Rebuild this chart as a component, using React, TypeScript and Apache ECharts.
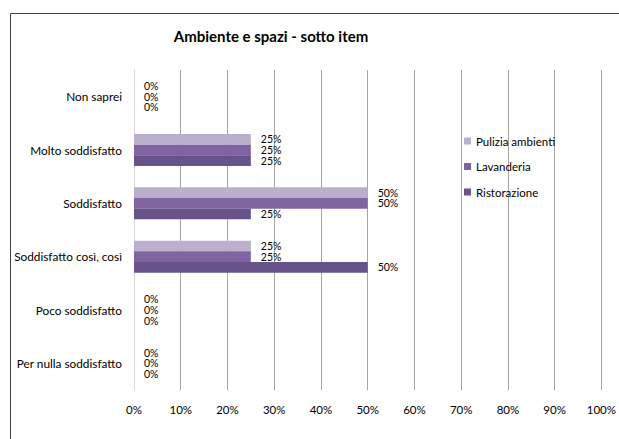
import React, { useEffect, useRef } from "react";
import * as echarts from "echarts";

const categories = [
  "Non saprei",
  "Molto soddisfatto",
  "Soddisfatto",
  "Soddisfatto così, così",
  "Poco soddisfatto",
  "Per nulla soddisfatto",
];
const seriesNames = ["Pulizia ambienti", "Lavanderia", "Ristorazione"];
const puliziaAmbienti = [0, 25, 50, 25, 0, 0];
const lavanderia = [0, 25, 50, 25, 0, 0];
const ristorazione = [0, 25, 25, 50, 0, 0];
const xTicks = [0, 10, 20, 30, 40, 50, 60, 70, 80, 90, 100];

const colors = ["#BAB0CB", "#8064A2", "#67528A"];
const FONT = "Lato, 'Open Sans', sans-serif";

export default function App() {
  const ref = useRef<HTMLDivElement>(null);
  useEffect(() => {
    if (!ref.current) return;
    const chart = echarts.init(ref.current, null, { renderer: "svg", width: 619, height: 439 });
    const data = [puliziaAmbienti, lavanderia, ristorazione];
    chart.setOption({
      animation: false,
      backgroundColor: "#ffffff",
      textStyle: { fontFamily: FONT },
      graphic: [
        {
          type: "rect",
          shape: { x: 10.5, y: 13.5, width: 640, height: 460 },
          style: { fill: "none", stroke: "#404040", lineWidth: 1 },
          silent: true,
        },
        {
          type: "text",
          x: 271,
          y: 36,
          style: {
            text: "Ambiente e spazi - sotto item",
            fontFamily: FONT,
            fontSize: 15,
            fontWeight: "bold",
            fill: "#000",
            align: "center",
            verticalAlign: "middle",
          },
          silent: true,
        },
      ],
      legend: {
        orient: "vertical",
        left: 464,
        top: 135,
        padding: 0,
        itemWidth: 7,
        itemHeight: 7,
        itemGap: 13.5,
        icon: "rect",
        textStyle: { fontFamily: FONT, fontSize: 11.5, color: "#000" },
        data: seriesNames,
      },
      grid: { left: 134, width: 473, top: 70, height: 320, containLabel: false },
      xAxis: {
        type: "value",
        min: xTicks[0],
        max: xTicks[xTicks.length - 1],
        interval: 10,
        axisLine: { show: false },
        axisTick: { show: false },
        splitLine: { show: true, lineStyle: { color: "#A6A6A6", width: 1 } },
        axisLabel: {
          formatter: (v: number) => v + "%",
          fontFamily: FONT,
          fontSize: 11.5,
          color: "#000",
          margin: 13,
        },
      },
      yAxis: {
        type: "category",
        inverse: true,
        data: categories,
        axisLine: { show: true, lineStyle: { color: "#D9D9D9", width: 1 } },
        axisTick: { show: false },
        axisLabel: { fontFamily: FONT, fontSize: 11.8, color: "#000", margin: 12 },
      },
      series: seriesNames.map((name, i) => ({
        name,
        type: "bar",
        data: data[i],
        barCategoryGap: "40%",
        barGap: "0%",
        itemStyle: { color: colors[i] },
        label: {
          show: true,
          position: "right",
          distance: 10,
          formatter: (p: any) => p.value + "%",
          fontFamily: FONT,
          fontSize: 10.5,
          lineHeight: 10.5,
          color: "#000",
        },
      })),
    });
    return () => chart.dispose();
  }, []);
  return (
    <div
      ref={ref}
      style={{ position: "fixed", left: 0, top: 0, width: 619, height: 439 }}
    />
  );
}
